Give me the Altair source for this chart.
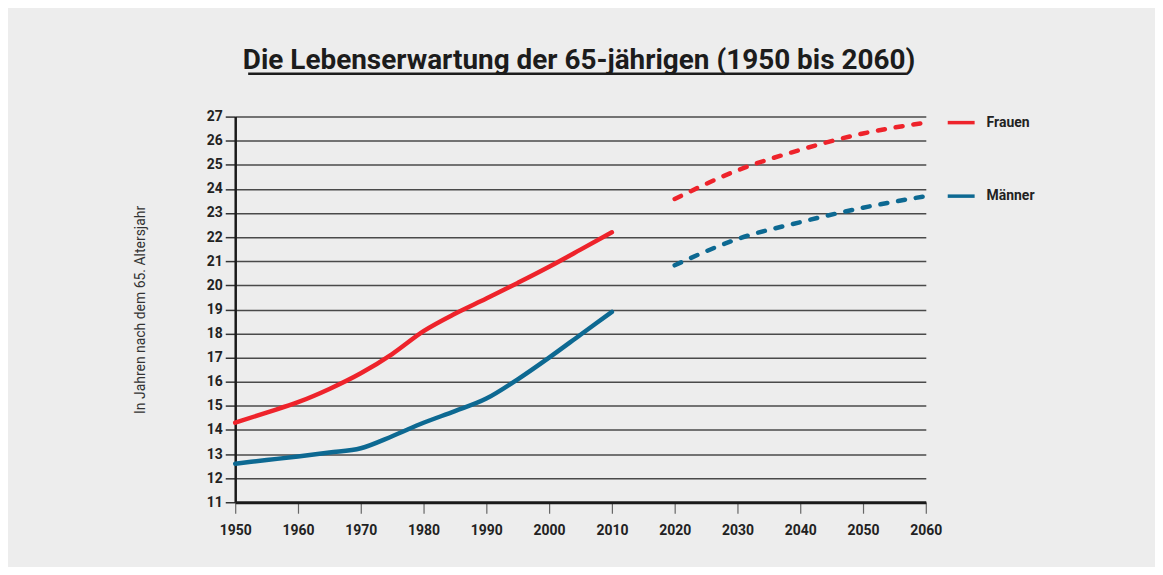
import altair as alt
import pandas as pd

years_hist = [1950, 1955, 1960, 1965, 1970, 1975, 1980, 1985, 1990, 1995, 2000, 2005, 2010]
frauen_hist = [14.3, 14.72, 15.15, 15.7, 16.35, 17.15, 18.1, 18.82, 19.45, 20.1, 20.77, 21.48, 22.2]
maenner_hist = [12.6, 12.75, 12.9, 13.06, 13.24, 13.74, 14.3, 14.78, 15.3, 16.1, 17.0, 17.95, 18.9]

years_proj = [2020, 2030, 2040, 2050, 2060]
frauen_proj = [23.58, 24.77, 25.62, 26.3, 26.75]
maenner_proj = [20.83, 21.92, 22.62, 23.22, 23.7]

x_ticks = [1950, 1960, 1970, 1980, 1990, 2000, 2010, 2020, 2030, 2040, 2050, 2060]
y_ticks = [11, 12, 13, 14, 15, 16, 17, 18, 19, 20, 21, 22, 23, 24, 25, 26, 27]

series_names = ["Frauen", "Männer"]
series_colors = ["#ee232b", "#0d6992"]
legend_y = [26.75, 23.7]

title_text = "Die Lebenserwartung der 65-jährigen (1950 bis 2060)"
y_title = "In Jahren nach dem 65. Altersjahr"

FONT = "Roboto, sans-serif"

rows = []
for y, f, m in zip(years_hist, frauen_hist, maenner_hist):
    rows.append({"Jahr": y, "Wert": f, "Serie": "Frauen", "Teil": "hist"})
    rows.append({"Jahr": y, "Wert": m, "Serie": "Männer", "Teil": "hist"})
for y, f, m in zip(years_proj, frauen_proj, maenner_proj):
    rows.append({"Jahr": y, "Wert": f, "Serie": "Frauen", "Teil": "proj"})
    rows.append({"Jahr": y, "Wert": m, "Serie": "Männer", "Teil": "proj"})
df = pd.DataFrame(rows)

leg = pd.DataFrame({"Serie": series_names, "Wert": legend_y})

W, H = 693, 387

xs = alt.X("Jahr:Q", scale=alt.Scale(domain=[1950, 2060], nice=False),
           axis=alt.Axis(values=x_ticks, format="d", title=None, grid=False,
                         domainColor="#1a1a1a", domainWidth=3,
                         tickColor="#666666", tickSize=11, tickWidth=1.2,
                         labelFont=FONT, labelFontSize=14, labelFontWeight="bold",
                         labelColor="#222222", labelPadding=10,
                         labelFlush=False, labelOverlap=False))
ys = alt.Y("Wert:Q", scale=alt.Scale(domain=[11, 27], nice=False, zero=False),
           axis=alt.Axis(values=y_ticks, tickCount=17, title=y_title, grid=True,
                         gridColor="#4a4a4a", gridWidth=1.5,
                         domainColor="#1a1a1a", domainWidth=2.5,
                         tickColor="#333333", tickSize=10, tickWidth=1.5,
                         labelFont=FONT, labelFontSize=14, labelFontWeight="bold",
                         labelColor="#222222", labelPadding=3,
                         labelFlush=False, labelOverlap=False,
                         titleFont=FONT, titleFontSize=14, titleFontWeight="normal",
                         titleColor="#333333", titleX=-95, titleY=H / 2,
                         titleAngle=270, titleAlign="center", titleBaseline="middle"))
color = alt.Color("Serie:N", scale=alt.Scale(domain=series_names, range=series_colors), legend=None)

base = alt.Chart(df)
solid = base.transform_filter(alt.datum.Teil == "hist").mark_line(
    strokeWidth=4.5, interpolate="monotone", strokeCap="round").encode(x=xs, y=ys, color=color)
dashed = base.transform_filter(alt.datum.Teil == "proj").mark_line(
    strokeWidth=4.5, interpolate="monotone", strokeCap="round", strokeDash=[7, 11]).encode(
    x=xs, y=ys, color=color)

leg_line = alt.Chart(leg).mark_rule(strokeWidth=3.5).encode(
    x=alt.value(W + 22), x2=alt.value(W + 49), y=ys, color=color)
leg_text = alt.Chart(leg).mark_text(
    align="left", baseline="middle", font=FONT, fontSize=14, fontWeight="bold", color="#222222").encode(
    x=alt.value(W + 61), y=ys, text="Serie:N")

title_df = pd.DataFrame({"t": [title_text]})
title = alt.Chart(title_df).mark_text(
    align="center", baseline="alphabetic", font=FONT, fontSize=28, fontWeight="bold",
    color="#1c1c1c").encode(x=alt.value(345), y=alt.value(-48), text="t:N")
underline = alt.Chart(title_df).mark_rule(color="#1c1c1c", strokeWidth=2.5).encode(
    x=alt.value(13), x2=alt.value(674), y=alt.value(-43))

chart = alt.layer(solid, dashed, leg_line, leg_text, title, underline).properties(
    width=W, height=H,
    background="#ededed",
    padding={"left": 228, "top": 108, "right": 230, "bottom": 64},
    autosize=alt.AutoSizeParams(type="none"),
).configure_view(stroke=None, fill="#ededed")

chart.save("out.html", embed_options={"renderer": "svg", "actions": False})
